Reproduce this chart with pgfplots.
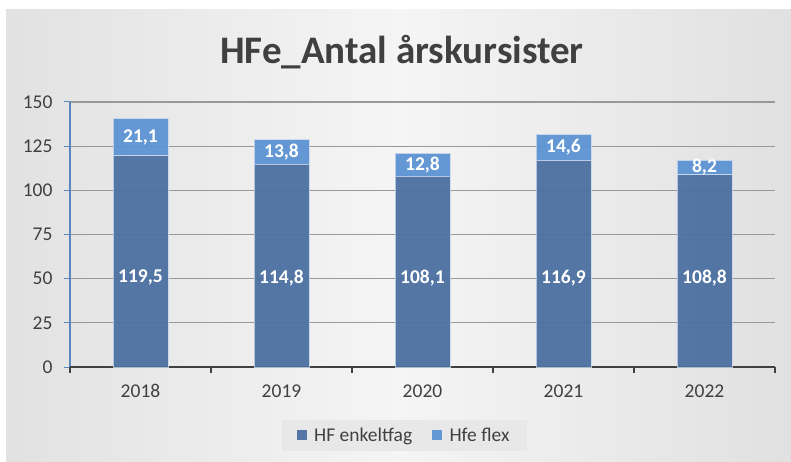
\documentclass[border=0pt]{standalone}
\usepackage{pgfplots}
\pgfplotsset{compat=1.18}
\usepackage{fontspec}
\setmainfont{Carlito}
\definecolor{darkbar}{HTML}{4A6FA0}
\definecolor{lightbar}{HTML}{5B93D3}
\definecolor{txt}{HTML}{404040}
\definecolor{yax}{HTML}{5B87C0}
\definecolor{gridc}{HTML}{999999}
\pgfdeclarehorizontalshading{bgshade}{100bp}{color(0bp)=(black!19); color(50bp)=(black!4); color(100bp)=(black!20)}
\begin{document}
\begin{tikzpicture}[x=1pt,y=1pt]
\fill[white] (0,0) rectangle (791,461);
\shade[shading=bgshade] (6,0) rectangle (791,451);
\node[font=\fontsize{39}{44}\selectfont\bfseries, text=txt] at (402,409) {HFe\_Antal årskursister};
\begin{axis}[
  at={(70pt,94pt)}, anchor=south west,
  scale only axis, width=705pt, height=265pt,
  xmin=-0.5, xmax=4.5, ymin=0, ymax=150,
  axis x line*=bottom, axis y line*=left,
  x axis line style={draw=none},
  y axis line style={yax, line width=1.4pt, -},
  clip=false,
  ybar stacked, bar width=55pt,
  ymajorgrids, grid style={gridc, line width=1.2pt},
  ytick={0,25,50,75,100,125,150},
  ytick style={yax, line width=1pt},
  xtick={0,1,2,3,4},
  xticklabels={2018,2019,2020,2021,2022},
  xtick style={draw=none},
  tick align=outside, major tick length=6pt,
  ticklabel style={font=\fontsize{19.5}{22}\selectfont, text=txt},
  /pgf/number format/assume math mode=true,
  yticklabel style={xshift=-8pt},
  xticklabel style={yshift=-8pt},
  legend columns=2,
  legend style={at={(0.474,-0.257)}, anchor=center, draw=none, fill=black!9,
    font=\fontsize{19.5}{22}\selectfont, text=txt,
    /tikz/every even column/.append style={column sep=18pt},
    inner xsep=15pt, inner ysep=6pt},
  legend image code/.code={\fill[#1,draw=none] (0pt,-5pt) rectangle (10pt,5pt); \path (15pt,0pt);},
]
\addplot[fill=darkbar, fill opacity=0.94, draw={rgb,255:red,205;green,218;blue,236}, draw opacity=0.8, line width=0.8pt] coordinates {(0,119.5) (1,114.8) (2,108.1) (3,116.9) (4,108.8)};
\addlegendentry{HF enkeltfag}
\addplot[fill=lightbar, fill opacity=0.94, draw={rgb,255:red,205;green,218;blue,236}, draw opacity=0.8, line width=0.8pt] coordinates {(0,21.1) (1,13.8) (2,12.8) (3,14.6) (4,8.2)};
\addlegendentry{Hfe flex}
\draw[txt, line width=2pt] (axis cs:-0.5,0) -- (axis cs:4.5,0);
\pgfplotsinvokeforeach{-0.5,0.5,1.5,2.5,3.5,4.5}{
  \draw[txt, line width=2pt] (axis cs:#1,0) -- ([yshift=-6pt]axis cs:#1,0);
}
\end{axis}
\begin{axis}[
  at={(70pt,94pt)}, anchor=south west,
  scale only axis, width=705pt, height=265pt,
  xmin=-0.5, xmax=4.5, ymin=0, ymax=150,
  hide axis, clip=false,
]
\addplot[only marks, mark=none, nodes near coords, point meta=explicit symbolic,
  nodes near coords style={anchor=center, text=white, font=\fontsize{19.5}{22}\selectfont\bfseries}]
  table[meta=lab] {
x y lab
0 50.5 119,5
1 50.5 114,8
2 50.5 108,1
3 50.5 116,9
4 50.5 108,8
0 130 21,1
1 121.7 13,8
2 114.5 12,8
3 124.2 14,6
4 112.9 8,2
};
\end{axis}
\end{tikzpicture}
\end{document}
